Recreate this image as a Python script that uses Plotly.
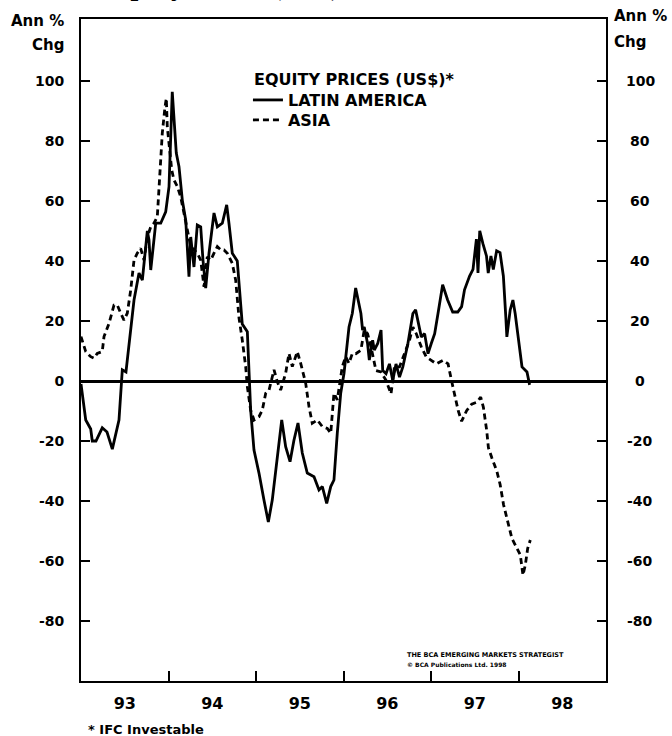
import plotly.graph_objects as go

# ---------------- data (decimal years, annual % change) ----------------
latam_t = [1993.000, 1993.054, 1993.111, 1993.129, 1993.171, 1993.243, 1993.297, 1993.358, 1993.434, 1993.472,
           1993.514, 1993.549, 1993.606, 1993.663, 1993.701, 1993.758, 1993.777, 1993.797, 1993.834, 1993.854,
           1993.911, 1993.968, 1994.006, 1994.043, 1994.089, 1994.120, 1994.158, 1994.197, 1994.234, 1994.254,
           1994.291, 1994.329, 1994.368, 1994.394, 1994.425, 1994.463, 1994.520, 1994.558, 1994.615, 1994.665,
           1994.691, 1994.729, 1994.786, 1994.825, 1994.843, 1994.901, 1994.920, 1994.939, 1994.977, 1995.034,
           1995.091, 1995.141, 1995.186, 1995.255, 1995.294, 1995.339, 1995.389, 1995.434, 1995.480, 1995.529,
           1995.586, 1995.663, 1995.720, 1995.758, 1995.808, 1995.854, 1995.891, 1995.929, 1995.968, 1996.006,
           1996.063, 1996.101, 1996.139, 1996.199, 1996.218, 1996.237, 1996.275, 1996.295, 1996.333, 1996.352,
           1996.391, 1996.429, 1996.448, 1996.486, 1996.525, 1996.563, 1996.600, 1996.640, 1996.678, 1996.736,
           1996.793, 1996.824, 1996.851, 1996.889, 1996.927, 1996.966, 1997.003, 1997.042, 1997.080, 1997.133,
           1997.190, 1997.248, 1997.306, 1997.350, 1997.383, 1997.441, 1997.480, 1997.519, 1997.537, 1997.557,
           1997.594, 1997.634, 1997.654, 1997.685, 1997.712, 1997.750, 1997.789, 1997.827, 1997.855, 1997.867,
           1997.905, 1997.936, 1997.962, 1998.001, 1998.040, 1998.097, 1998.127]
latam_v = [-1, -13, -16, -20, -20, -15.6, -17, -22.7, -13, 3.7,
           3, 11.4, 27, 36, 33.6, 50, 47, 37, 48, 52.6,
           52.6, 56.4, 64.8, 96.4, 76, 71.4, 60.3, 53.6, 34.8, 48,
           38, 52, 51.4, 40.3, 31, 42.6, 56, 51.4, 52.6, 58.7,
           52.6, 42.6, 40, 24, 19, 16.4, 0.3, -9.7, -23, -30.7,
           -39.7, -47, -39.7, -23, -13, -21.9, -26.9, -19.7, -14, -24,
           -30.7, -31.9, -36.3, -35.2, -40.8, -35.2, -33, -17.4, -4.1, 2.6,
           18, 22.6, 31, 22.5, 17, 18, 12.5, 7, 13.6, 10.3,
           12.5, 17, 3.5, 2.4, 5.7, 0.2, 5.7, 1.3, 4.7, 12.5,
           22.5, 23.7, 20.3, 14.7, 15.8, 9.1, 12.5, 15.8, 22.5, 32.1,
           27, 23, 23, 24.8, 30.4, 35, 37.2, 47.3, 36, 50.1,
           45.7, 41.7, 36, 41.7, 37.2, 43.4, 42.8, 35, 21.4, 14.7,
           23.7, 27, 22.5, 12.5, 4.7, 3, -1.3]

asia_t = [1993.000, 1993.054, 1993.111, 1993.149, 1993.186, 1993.243, 1993.263, 1993.320, 1993.377, 1993.415,
          1993.454, 1993.491, 1993.529, 1993.568, 1993.606, 1993.643, 1993.682, 1993.720, 1993.758, 1993.797,
          1993.834, 1993.872, 1993.911, 1993.929, 1993.960, 1993.975, 1993.986, 1994.006, 1994.037, 1994.063,
          1994.101, 1994.139, 1994.177, 1994.215, 1994.254, 1994.291, 1994.329, 1994.368, 1994.406, 1994.443,
          1994.482, 1994.520, 1994.558, 1994.597, 1994.634, 1994.672, 1994.711, 1994.729, 1994.768, 1994.806,
          1994.843, 1994.882, 1994.901, 1994.939, 1994.977, 1995.034, 1995.072, 1995.111, 1995.149, 1995.206,
          1995.243, 1995.282, 1995.339, 1995.377, 1995.415, 1995.472, 1995.511, 1995.568, 1995.606, 1995.643,
          1995.701, 1995.758, 1995.815, 1995.854, 1995.891, 1995.929, 1995.986, 1996.025, 1996.063, 1996.101,
          1996.141, 1996.199, 1996.237, 1996.275, 1996.314, 1996.371, 1996.429, 1996.486, 1996.543, 1996.582,
          1996.640, 1996.697, 1996.754, 1996.793, 1996.831, 1996.889, 1996.946, 1997.003, 1997.062, 1997.138,
          1997.195, 1997.234, 1997.272, 1997.311, 1997.350, 1997.407, 1997.465, 1997.522, 1997.568, 1997.599,
          1997.637, 1997.656, 1997.695, 1997.752, 1997.790, 1997.829, 1997.867, 1997.925, 1997.983, 1998.021,
          1998.051, 1998.078, 1998.105, 1998.135]
asia_v = [14.8, 9.8, 8.1, 7.6, 9.2, 9.8, 14.8, 19.2, 25.3, 25.3,
          22.6, 20.3, 22.6, 30.3, 40.3, 42.6, 44.2, 40.3, 48, 51.4,
          52.6, 54.8, 73.7, 82.6, 91.4, 94.2, 84.8, 79.2, 70.3, 67,
          64.8, 61.4, 55.9, 49.2, 44.8, 43.7, 42.6, 40.3, 31.4, 41.4,
          40.3, 42.6, 44.8, 43.7, 43.7, 42.6, 40.3, 39.2, 33.6, 21,
          13.7, 4.8, -1.9, -9.7, -13, -11.9, -9.7, -4.1, -3, 3.7,
          -0.2, -3, 2.6, 9.2, 4.8, 9.8, 5.9, -0.8, -8.6, -14.1,
          -13, -15.2, -15.8, -17.4, -4.1, -6.3, 4.8, 8.1, 5.9, 9.2,
          9.1, 10.3, 17, 15.8, 11.4, 3.5, 3, 0.2, -4.3, 4.7,
          4.7, 9.1, 13.6, 18, 15.8, 11.4, 8, 6.9, 5.7, 6.9,
          5.7, 0.2, -5.4, -9.9, -13.4, -9.9, -7.7, -7.1, -5.4, -8.8,
          -16.6, -22.2, -25.6, -30, -34.5, -41.2, -45.7, -52.5, -55.8, -58,
          -64.7, -61.3, -55.8, -53]

year_ticks = [1993.5, 1994.5, 1995.5, 1996.5, 1997.5, 1998.5]
year_labels = ["93", "94", "95", "96", "97", "98"]
year_bounds = [1994, 1995, 1996, 1997, 1998]
y_ticks = [-80, -60, -40, -20, 0, 20, 40, 60, 80, 100]
y_labels = [str(v) for v in y_ticks]

FONT = "DejaVu Sans"
BOLD = dict(family=FONT, color="black", weight="bold")

fig = go.Figure()
fig.add_trace(go.Scatter(x=latam_t, y=latam_v, mode="lines", name="LATIN AMERICA", legend="legend",
                         line=dict(color="black", width=2.8)))
fig.add_trace(go.Scatter(x=asia_t, y=asia_v, mode="lines", name="ASIA", legend="legend2",
                         line=dict(color="black", width=2.8, dash="6px,4px")))

leg_common = dict(x=0.318, xanchor="left", yanchor="middle", bgcolor="rgba(0,0,0,0)",
                  borderwidth=0, font=dict(size=16, **BOLD))

fig.update_layout(
    width=672, height=736,
    margin=dict(l=81, r=66, t=19, b=55),
    paper_bgcolor="white", plot_bgcolor="white",
    showlegend=True,
    legend=dict(y=0.8776, **leg_common),
    legend2=dict(y=0.8474, **leg_common),
    xaxis=dict(range=[1993, 1999], tickvals=year_ticks, ticktext=year_labels, ticks="",
               showline=True, mirror=True, linecolor="black", linewidth=2,
               showgrid=False, zeroline=False,
               tickfont=dict(size=16, **BOLD), ticklabelstandoff=7,
               minor=dict(tickvals=year_bounds, ticks="inside", ticklen=10, tickwidth=1.5, tickcolor="black")),
    yaxis=dict(range=[-100, 120.67], tickvals=y_ticks, ticktext=y_labels, ticks="inside", ticklen=9,
               tickwidth=1.5, tickcolor="black", showline=True, mirror="ticks", linecolor="black", linewidth=2,
               showgrid=False, zeroline=True, zerolinecolor="black", zerolinewidth=2.5,
               tickfont=dict(size=14, **BOLD), ticklabelstandoff=12),
)

# right-hand axis labels (centred, as in the original)
for v, lab in zip(y_ticks, y_labels):
    fig.add_annotation(x=1.0648, xref="paper", y=v, yref="y", text=lab, showarrow=False,
                       xanchor="center", yanchor="middle", font=dict(size=14, **BOLD))

ann = [
    dict(text="EQUITY PRICES (US$)*", x=0.3257, y=0.9079, xanchor="left", size=16),
    dict(text="Ann %", x=-0.028, y=0.997, xanchor="right", size=15),
    dict(text="Chg", x=-0.028, y=0.961, xanchor="right", size=15),
    dict(text="Ann %", x=1.0114, y=1.0045, xanchor="left", size=15),
    dict(text="Chg", x=1.0114, y=0.965, xanchor="left", size=15),
    dict(text="* IFC Investable", x=0.0095, y=-0.074, xanchor="left", size=13),
    dict(text="THE BCA EMERGING MARKETS STRATEGIST", x=0.617, y=0.039, xanchor="left", size=6.5),
    dict(text="\u00a9 BCA Publications Ltd. 1998", x=0.617, y=0.025, xanchor="left", size=6),
]
for a in ann:
    fig.add_annotation(x=a["x"], y=a["y"], xref="paper", yref="paper", text=a["text"], showarrow=False,
                       xanchor=a["xanchor"], yanchor="middle", font=dict(size=a["size"], **BOLD))

# title, mostly clipped by the top of the page as in the original
fig.add_annotation(x=0.497, y=1.0505, xref="paper", yref="paper", text="Equity Prices (US$)",
                   showarrow=False, xanchor="right", yanchor="middle",
                   font=dict(family="Liberation Serif", size=28, color="black", weight="bold"))

fig.write_html("out.html", config={"displayModeBar": False},
               post_script="document.body.style.margin='0';document.body.style.overflow='hidden';")
